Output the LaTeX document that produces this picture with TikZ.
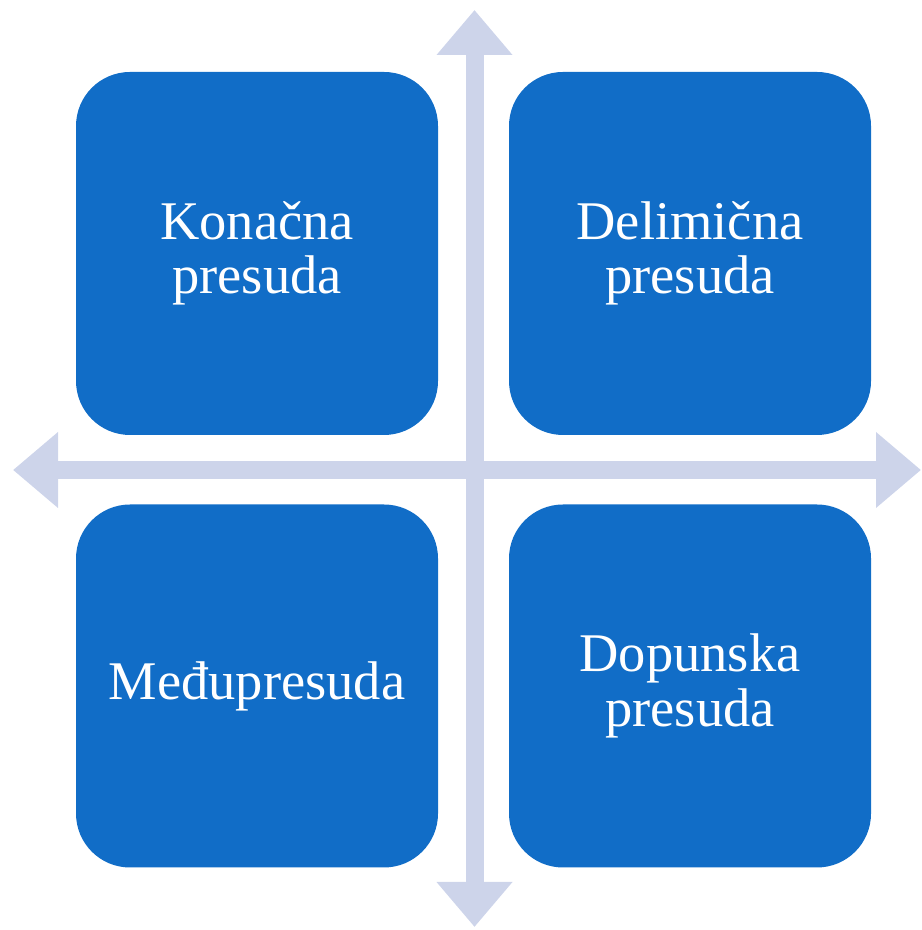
\documentclass[tikz,border=0pt]{standalone}
\usepackage{fontspec}
\setmainfont{Liberation Serif}
\usetikzlibrary{arrows.meta}

\definecolor{boxblue}{RGB}{17,109,199}
\definecolor{axisgray}{RGB}{205,212,234}

\tikzset{
  kindbox/.style={fill=boxblue, draw=none, rounded corners=0.54cm,
    minimum width=3.62cm, minimum height=3.63cm, text=white, align=center,
    font=\fontsize{15.5}{15.5}\selectfont, inner sep=0pt},
  axis/.style={draw=axisgray, line width=0.18cm,
    {Triangle[length=0.45cm,width=0.73cm]}-{Triangle[length=0.45cm,width=0.73cm]}}
}

\begin{document}
\begin{tikzpicture}
  \useasboundingbox (0cm,0cm) rectangle (9.22cm,9.30cm);
  % axes
  \coordinate (top) at (4.745cm,9.20cm);
  \coordinate (bottom) at (4.745cm,0.03cm);
  \coordinate (left) at (0.13cm,4.60cm);
  \coordinate (right) at (9.21cm,4.60cm);
  \draw[axis] (bottom) -- (top);
  \draw[axis] (left) -- (right);
  % four boxes
  \node[kindbox] (konacna) at (2.57cm,6.765cm) {Konačna\\presuda};
  \node[kindbox] (delimicna) at (6.90cm,6.765cm) {Delimična\\presuda};
  \node[kindbox] (medju) at (2.57cm,2.44cm) {Međupresuda};
  \node[kindbox] (dopunska) at (6.90cm,2.44cm) {Dopunska\\presuda};
\end{tikzpicture}
\end{document}
